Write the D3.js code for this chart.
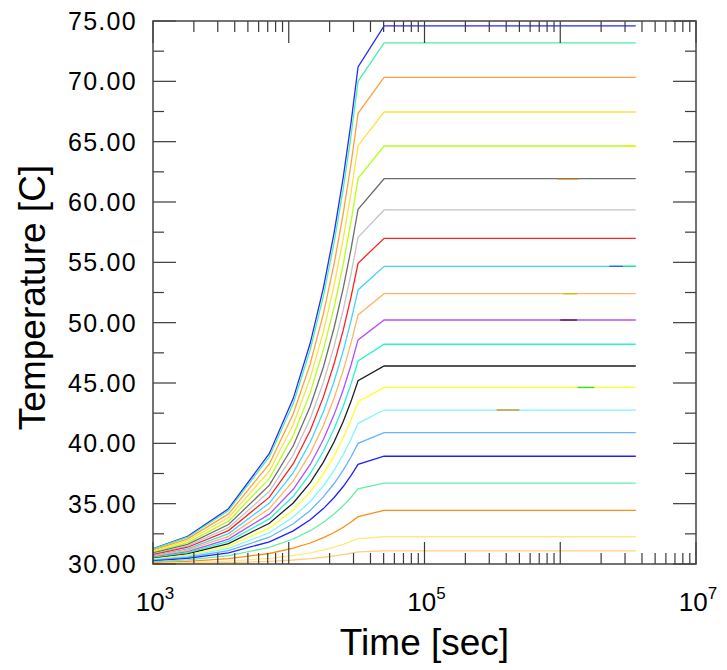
<!DOCTYPE html>
<html>
<head>
<meta charset="utf-8">
<script src="https://cdn.jsdelivr.net/npm/d3@7"></script>
<style>
  body { margin: 0; background: #fff; }
  svg { display: block; }
  text { font-family: "Liberation Sans", Arial, Helvetica, sans-serif; fill: #000; }
</style>
</head>
<body>
<svg id="chart" width="727" height="670"></svg>
<script>
// time points [sec]
var times = [1000, 1800, 3600, 7200, 10800, 14400, 18000, 21600, 25200, 28800, 32400, 50400, 3600000]

// temperature curves [C], top to bottom
var t01 = [31.27, 32.29, 34.58, 39.16, 43.73, 48.31, 52.89, 57.47, 62.04, 66.62, 71.20, 74.60, 74.60]
var t02 = [31.24, 32.22, 34.44, 38.89, 43.33, 47.78, 52.22, 56.67, 61.11, 65.56, 70.00, 73.18, 73.18]
var t03 = [31.15, 32.08, 34.15, 38.30, 42.45, 46.60, 50.75, 54.90, 59.05, 63.20, 67.35, 70.33, 70.33]
var t04 = [31.07, 31.93, 33.85, 37.70, 41.56, 45.41, 49.26, 53.11, 56.97, 60.82, 64.67, 67.46, 67.46]
var t05 = [30.99, 31.78, 33.55, 37.10, 40.65, 44.20, 47.76, 51.31, 54.86, 58.41, 61.96, 64.64, 64.64]
var t06 = [30.91, 31.63, 33.27, 36.53, 39.80, 43.07, 46.33, 49.60, 52.87, 56.13, 59.40, 61.93, 61.93]
var t07 = [30.84, 31.51, 33.01, 36.02, 39.03, 42.03, 45.05, 48.05, 51.06, 54.07, 57.08, 59.34, 59.34]
var t08 = [30.77, 31.39, 32.77, 35.54, 38.31, 41.07, 43.85, 46.61, 49.38, 52.15, 54.92, 56.99, 56.99]
var t09 = [30.70, 31.26, 32.52, 35.05, 37.57, 40.09, 42.62, 45.14, 47.66, 50.19, 52.71, 54.67, 54.67]
var t10 = [30.64, 31.15, 32.29, 34.59, 36.88, 39.17, 41.47, 43.76, 46.05, 48.35, 50.64, 52.40, 52.40]
var t11 = [30.57, 31.03, 32.06, 34.13, 36.19, 38.25, 40.32, 42.38, 44.44, 46.51, 48.57, 50.22, 50.22]
var t12 = [30.52, 30.94, 31.87, 33.74, 35.61, 37.48, 39.34, 41.21, 43.08, 44.95, 46.82, 48.21, 48.21]
var t13 = [30.47, 30.84, 31.69, 33.38, 35.06, 36.75, 38.44, 40.13, 41.81, 43.50, 45.19, 46.41, 46.41]
var t14 = [30.42, 30.75, 31.49, 32.99, 34.48, 35.98, 37.47, 38.97, 40.46, 41.96, 43.45, 44.63, 44.63]
var t15 = [30.36, 30.65, 31.30, 32.59, 33.89, 35.18, 36.48, 37.77, 39.07, 40.36, 41.66, 42.76, 42.76]
var t16 = [30.31, 30.56, 31.11, 32.22, 33.33, 34.44, 35.56, 36.67, 37.78, 38.89, 40.00, 40.88, 40.88]
var t17 = [30.26, 30.46, 30.92, 31.84, 32.75, 33.67, 34.59, 35.51, 36.42, 37.34, 38.26, 38.93, 38.93]
var t18 = [30.19, 30.35, 30.69, 31.38, 32.07, 32.76, 33.46, 34.15, 34.84, 35.53, 36.22, 36.71, 36.71]
var t19 = [30.12, 30.22, 30.44, 30.87, 31.31, 31.74, 32.18, 32.61, 33.05, 33.48, 33.92, 34.45, 34.45]
var t20 = [30.06, 30.12, 30.23, 30.47, 30.70, 30.93, 31.17, 31.40, 31.63, 31.87, 32.10, 32.26, 32.26]
var t21 = [30.03, 30.06, 30.11, 30.22, 30.33, 30.44, 30.56, 30.67, 30.78, 30.89, 31.00, 31.08, 31.08]

var series = [t01, t02, t03, t04, t05, t06, t07, t08, t09, t10, t11, t12, t13, t14, t15, t16, t17, t18, t19, t20, t21]
var colors = ["#2828ff", "#48f0a8", "#ffa040", "#ffe040", "#b4ff1c", "#6e6e6e", "#c4c4c4",
              "#ff2020", "#40d4ff", "#ffb468", "#b050ff", "#28f4d0", "#1e1e1e", "#ffff24",
              "#80f4ff", "#64b4ff", "#2020ff", "#64f0a4", "#ff8c10", "#ffe880", "#ffcf80"]

// short overlapping pieces seen on the plateaus: curve index, from, to [sec], colour
var overlayCurve = [4, 5, 8, 8, 9, 10, 13, 14]
var overlayFrom  = [2.9e6, 9.6e5, 2.3e6, 2.9e6, 1.05e6, 1.0e6, 1.34e6, 3.4e5]
var overlayTo    = [3.6e6, 1.35e6, 2.9e6, 3.6e6, 1.33e6, 1.33e6, 1.78e6, 5.0e5]
var overlayColor = ["#e4f800", "#a87020", "#3060ff", "#20e890", "#d0c400", "#4a2050", "#30e020", "#d09030"]

var yTicks = [30, 35, 40, 45, 50, 55, 60, 65, 70, 75]
var xLabels = [3, 5, 7]

var margin = {top: 21, left: 153, right: 31, bottom: 106}
var W = 727, H = 670
var svg = d3.select("#chart")

var x = d3.scaleLog().domain([1e3, 1e7]).range([margin.left, W - margin.right])
var y = d3.scaleLinear().domain([30, 75]).range([H - margin.bottom, margin.top])

svg.append("defs").append("clipPath").attr("id", "clip")
  .append("rect")
  .attr("x", x(1e3)).attr("y", y(75))
  .attr("width", x(1e7) - x(1e3)).attr("height", y(30) - y(75))

var line = d3.line()
  .x(function(d, i) { return x(times[i]) })
  .y(function(d) { return y(d) })

var plot = svg.append("g").attr("clip-path", "url(#clip)")

plot.selectAll("path.curve")
  .data(series)
  .join("path")
  .attr("class", "curve")
  .attr("d", line)
  .attr("fill", "none")
  .attr("stroke", function(d, i) { return colors[i] })
  .attr("stroke-width", 1.3)

plot.selectAll("line.piece")
  .data(overlayCurve)
  .join("line")
  .attr("class", "piece")
  .attr("x1", function(d, i) { return x(overlayFrom[i]) })
  .attr("x2", function(d, i) { return x(overlayTo[i]) })
  .attr("y1", function(d) { return y(series[d][series[d].length - 1]) })
  .attr("y2", function(d) { return y(series[d][series[d].length - 1]) })
  .attr("stroke", function(d, i) { return overlayColor[i] })
  .attr("stroke-width", 1.4)

// ticks
var tickColor = "#3a3a3a"
var yMinor = d3.range(32.5, 75, 5)
var ax = svg.append("g").attr("stroke", tickColor).attr("stroke-width", 1.2)

yTicks.forEach(function(v) {
  ax.append("line").attr("x1", x(1e3)).attr("x2", x(1e3) + 23).attr("y1", y(v)).attr("y2", y(v))
  ax.append("line").attr("x1", x(1e7)).attr("x2", x(1e7) - 23).attr("y1", y(v)).attr("y2", y(v))
})
yMinor.forEach(function(v) {
  ax.append("line").attr("x1", x(1e3)).attr("x2", x(1e3) + 11).attr("y1", y(v)).attr("y2", y(v))
  ax.append("line").attr("x1", x(1e7)).attr("x2", x(1e7) - 11).attr("y1", y(v)).attr("y2", y(v))
})

x.ticks().forEach(function(v) {
  var major = Math.abs(Math.log10(v) - Math.round(Math.log10(v))) < 1e-9
  var len = major ? 22 : 11
  ax.append("line").attr("x1", x(v)).attr("x2", x(v)).attr("y1", y(30)).attr("y2", y(30) - len)
  ax.append("line").attr("x1", x(v)).attr("x2", x(v)).attr("y1", y(75)).attr("y2", y(75) + len)
})

// frame
svg.append("rect")
  .attr("x", x(1e3)).attr("y", y(75))
  .attr("width", x(1e7) - x(1e3)).attr("height", y(30) - y(75))
  .attr("fill", "none").attr("stroke", "#444").attr("stroke-width", 1.5)

// y labels
svg.append("g").selectAll("text")
  .data(yTicks)
  .join("text")
  .attr("x", 137)
  .attr("y", function(d) { return y(d) })
  .attr("dy", "0.36em")
  .attr("text-anchor", "end")
  .attr("font-size", 25)
  .attr("letter-spacing", 1.3)
  .text(d3.format(".2f"))

// x labels
var xl = svg.append("g").selectAll("text")
  .data(xLabels)
  .join("text")
  .attr("x", function(d) { return x(Math.pow(10, d)) + 2 })
  .attr("y", 611)
  .attr("text-anchor", "middle")
  .attr("font-size", 26)
xl.append("tspan").text("10")
xl.append("tspan").attr("dy", -12).attr("font-size", 17).text(function(d) { return d })

// axis titles
svg.append("text")
  .attr("x", (x(1e3) + x(1e7)) / 2)
  .attr("y", 655)
  .attr("text-anchor", "middle")
  .attr("font-size", 37)
  .text("Time [sec]")

svg.append("text")
  .attr("transform", "translate(45," + ((y(30) + y(75)) / 2 + 5) + ") rotate(-90)")
  .attr("text-anchor", "middle")
  .attr("font-size", 37)
  .text("Temperature [C]")
</script>
</body>
</html>
